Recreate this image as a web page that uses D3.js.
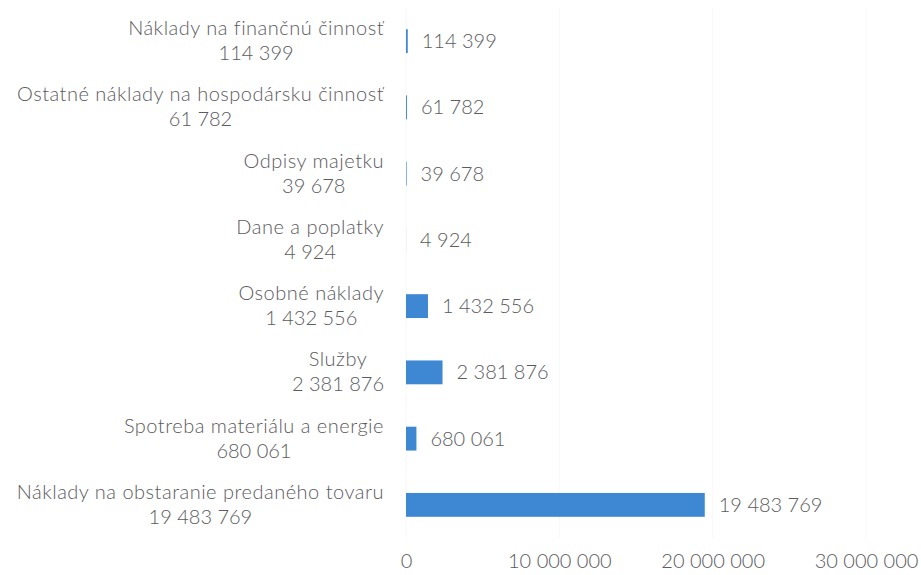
<!DOCTYPE html>
<html>
<head>
<meta charset="utf-8">
<script src="https://cdn.jsdelivr.net/npm/d3@7"></script>
<style>
  body { margin: 0; background: #fff; }
  text { font-family: Lato, "Open Sans", sans-serif; fill: #5b5b60; font-weight: 300; }
  text.cat { letter-spacing: 0.5px; }
</style>
</head>
<body>
<div id="chart"></div>
<script>
// data
var categories = [
  "Náklady na finančnú činnosť",
  "Ostatné náklady na hospodársku činnosť",
  "Odpisy majetku",
  "Dane a poplatky",
  "Osobné náklady",
  "Služby",
  "Spotreba materiálu a energie",
  "Náklady na obstaranie predaného tovaru"
];
var values = [114399, 61782, 39678, 4924, 1432556, 2381876, 680061, 19483769];
var tickValues = [0, 10000000, 20000000, 30000000];

var W = 921, H = 575;
var fontSize = 20;

var svg = d3.select("#chart")
  .append("svg")
    .attr("width", W)
    .attr("height", H);

var fmt = function(v){ return d3.format(",")(v).replace(/,/g, " "); };

var x = d3.scaleLinear()
    .domain([0, 30000000])
    .range([406, 866]);

var y = d3.scaleBand()
    .domain(categories)
    .range([8, 538])
    .paddingInner(0.64)
    .paddingOuter(0.32);

// very faint gridlines
svg.append("g")
  .selectAll("line")
  .data(tickValues)
  .enter()
  .append("line")
    .attr("x1", function(d){ return x(d) })
    .attr("x2", function(d){ return x(d) })
    .attr("y1", 8)
    .attr("y2", 538)
    .attr("stroke", "#f8f8f8")
    .attr("stroke-width", 1);

// x axis labels
var xAxis = svg.append("g")
  .attr("transform", "translate(0,561)")
  .call(d3.axisBottom(x).tickValues(tickValues).tickFormat(fmt).tickSize(0).tickPadding(0));
xAxis.select(".domain").remove();
xAxis.selectAll("text")
  .attr("dy", "0.35em")
  .style("font-size", fontSize + "px")
  .style("font-family", null)
  .attr("fill", null);

// bars
svg.selectAll("rect.bar")
  .data(values)
  .enter()
  .append("rect")
    .attr("class", "bar")
    .attr("x", x(0))
    .attr("y", function(d, i){ return y(categories[i]) })
    .attr("width", function(d){ return x(d) - x(0) })
    .attr("height", y.bandwidth())
    .attr("fill", "#3d87d3");

// value labels
svg.selectAll("text.val")
  .data(values)
  .enter()
  .append("text")
    .attr("class", "val")
    .attr("x", function(d){ return x(d) + 14 })
    .attr("y", function(d, i){ return y(categories[i]) + y.bandwidth() / 2 })
    .attr("dy", "0.35em")
    .style("font-size", fontSize + "px")
    .text(fmt);

// category labels: two lines centred on each other, block right aligned
var right = 384;
categories.forEach(function(c, i) {
  var cy = y(c) + y.bandwidth() / 2;
  var g = svg.append("g");
  var t1 = g.append("text")
    .attr("class", "cat")
    .attr("y", cy - 13)
    .attr("dy", "0.35em")
    .attr("text-anchor", "middle")
    .style("font-size", fontSize + "px")
    .text(c);
  var t2 = g.append("text")
    .attr("y", cy + 12)
    .attr("dy", "0.35em")
    .attr("text-anchor", "middle")
    .style("font-size", fontSize + "px")
    .text(fmt(values[i]));
  var w = Math.max(t1.node().getComputedTextLength(), t2.node().getComputedTextLength());
  t1.attr("x", right - w / 2);
  t2.attr("x", right - w / 2);
});
</script>
</body>
</html>
